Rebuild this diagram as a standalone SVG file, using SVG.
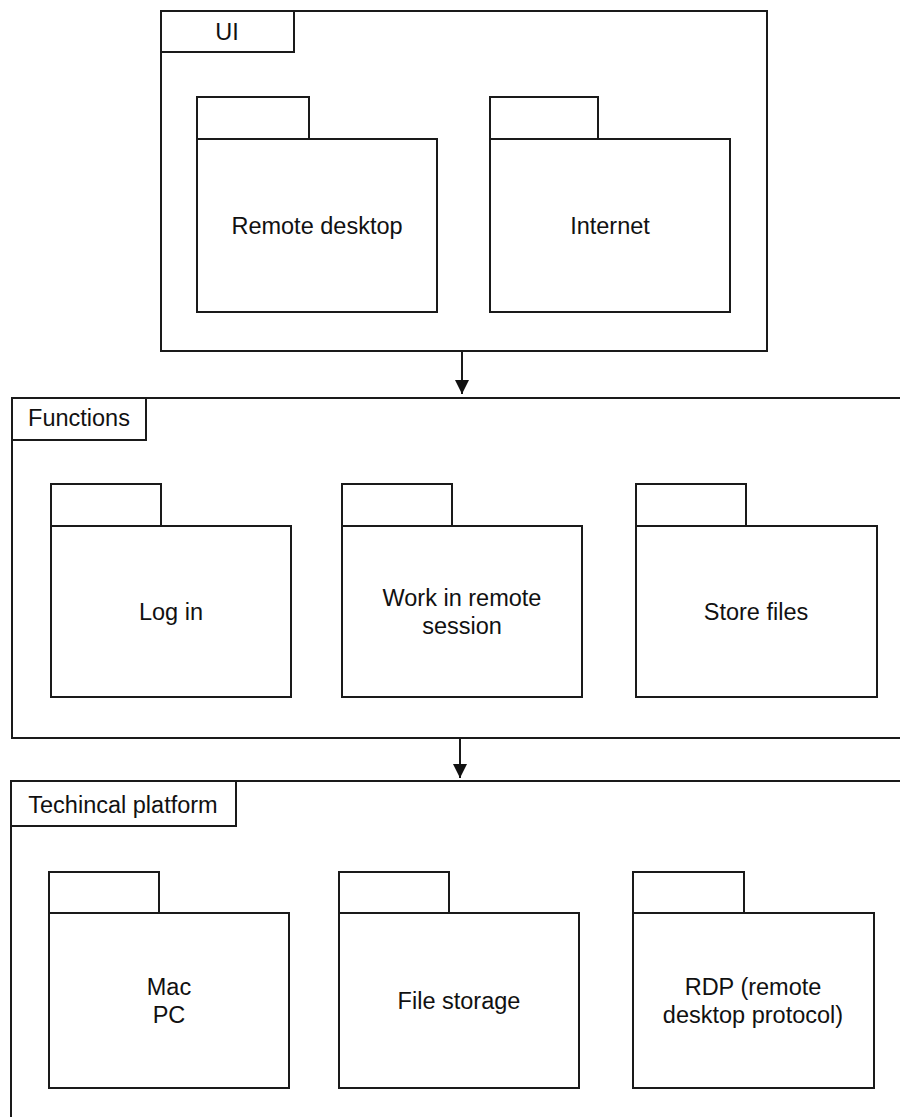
<svg xmlns="http://www.w3.org/2000/svg" width="900" height="1117" viewBox="0 0 900 1117">
  <style>
    .box { fill: #ffffff; stroke: #1a1a1a; stroke-width: 2; }
    .lbl { font-family: "Liberation Sans", Arial, sans-serif; font-size: 23.5px; fill: #111111; text-anchor: middle; }
    .edge { stroke: #1a1a1a; stroke-width: 2; fill: none; }
  </style>
  <defs>
    <marker id="arrowhead" viewBox="0 0 10 10" refX="10" refY="5" markerUnits="userSpaceOnUse" markerWidth="14" markerHeight="18" orient="auto">
      <path d="M0,0 L10,5 L0,10 Z" fill="#111111"/>
    </marker>
  </defs>
  <rect width="900" height="1117" fill="#ffffff"/>

  <!-- UI layer -->
  <g id="ui">
    <rect class="box" x="161" y="11" width="606" height="340"/>
    <rect class="box" x="161" y="11" width="133" height="41"/>
    <text class="lbl" x="227" y="40">UI</text>
  </g>
  <g id="remote-desktop">
    <rect class="box" x="197" y="97" width="112" height="42"/>
    <rect class="box" x="197" y="139" width="240" height="173"/>
    <text class="lbl" x="317" y="234">Remote desktop</text>
  </g>
  <g id="internet">
    <rect class="box" x="490" y="97" width="108" height="42"/>
    <rect class="box" x="490" y="139" width="240" height="173"/>
    <text class="lbl" x="610" y="234">Internet</text>
  </g>

  <!-- Functions layer -->
  <g id="functions">
    <rect class="box" x="12" y="398" width="900" height="340"/>
    <rect class="box" x="12" y="398" width="134" height="42"/>
    <text class="lbl" x="79" y="426">Functions</text>
  </g>
  <g id="log-in">
    <rect class="box" x="51" y="484" width="110" height="42"/>
    <rect class="box" x="51" y="526" width="240" height="171"/>
    <text class="lbl" x="171" y="620">Log in</text>
  </g>
  <g id="work-in-remote-session">
    <rect class="box" x="342" y="484" width="110" height="42"/>
    <rect class="box" x="342" y="526" width="240" height="171"/>
    <text class="lbl" x="462" y="606">Work in remote</text>
    <text class="lbl" x="462" y="634">session</text>
  </g>
  <g id="store-files">
    <rect class="box" x="636" y="484" width="110" height="42"/>
    <rect class="box" x="636" y="526" width="241" height="171"/>
    <text class="lbl" x="756" y="620">Store files</text>
  </g>

  <!-- Technical platform layer -->
  <g id="technical-platform">
    <rect class="box" x="11" y="781" width="900" height="360"/>
    <rect class="box" x="11" y="781" width="225" height="45"/>
    <text class="lbl" x="123" y="813">Techincal platform</text>
  </g>
  <g id="mac-pc">
    <rect class="box" x="49" y="872" width="110" height="41"/>
    <rect class="box" x="49" y="913" width="240" height="175"/>
    <text class="lbl" x="169" y="995">Mac</text>
    <text class="lbl" x="169" y="1023">PC</text>
  </g>
  <g id="file-storage">
    <rect class="box" x="339" y="872" width="110" height="41"/>
    <rect class="box" x="339" y="913" width="240" height="175"/>
    <text class="lbl" x="459" y="1009">File storage</text>
  </g>
  <g id="rdp">
    <rect class="box" x="633" y="872" width="111" height="41"/>
    <rect class="box" x="633" y="913" width="241" height="175"/>
    <text class="lbl" x="753" y="995">RDP (remote</text>
    <text class="lbl" x="753" y="1023">desktop protocol)</text>
  </g>

  <!-- Dependencies between layers -->
  <g id="connectors">
    <line class="edge" x1="462" y1="352" x2="462" y2="394" marker-end="url(#arrowhead)"/>
    <line class="edge" x1="460" y1="739" x2="460" y2="778" marker-end="url(#arrowhead)"/>
  </g>
</svg>
